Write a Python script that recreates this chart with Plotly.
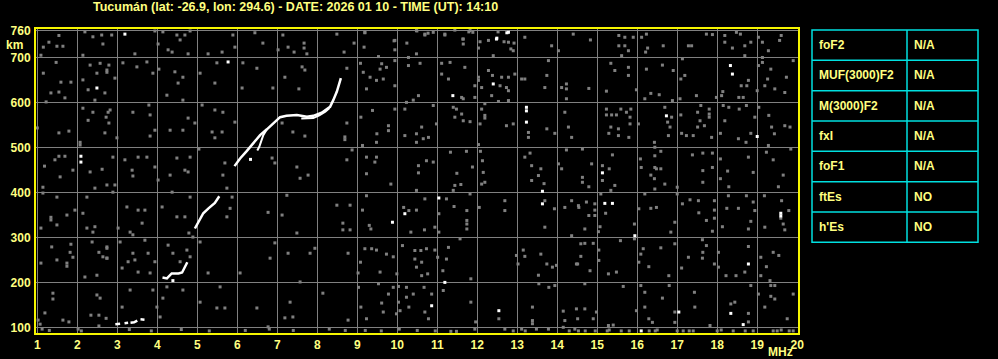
import plotly.graph_objects as go

# ---------------- data ----------------
title_text = "Tucumán (lat: -26.9, lon: 294.6) - DATE: 2026 01 10 - TIME (UT): 14:10"

x_ticks = list(range(1, 21))
y_ticks = [100, 200, 300, 400, 500, 600, 700, 760]

param_names = ["foF2", "MUF(3000)F2", "M(3000)F2", "fxI", "foF1", "ftEs", "h'Es"]
param_values = ["N/A", "N/A", "N/A", "N/A", "N/A", "NO", "NO"]

# main F-trace (None = gap in the echo trace)
trace_freq = [2.95, 3.07, None, 3.18, 3.27, None, 3.33, 3.42, 3.5, None, 3.58, 3.68, None,
              4.13, 4.24, 4.36, 4.53, 4.62, 4.69, 4.75, None,
              4.94, 5.03, 5.15, 5.28, 5.44, 5.55, None,
              5.93, 6.07, 6.24, 6.4, 6.57, 6.74, 6.9, 7.07, 7.23, 7.49, 7.74, 7.9, 8.11, 8.32, 8.4, 8.49, 8.59]
trace_height = [107, 108, None, 109, 110, None, 110, 111, 115, None, 118, 117, None,
                211, 209, 220, 220, 222, 235, 245, None,
                320, 335, 354, 365, 377, 392, None,
                459, 476, 493, 510, 528, 541, 554, 568, 571, 573, 569, 571, 578, 591, 606, 625, 655]

# secondary branch / thickened parts of the trace
branch_freq = [6.5, 6.55, 6.65, 6.74, None, 7.6, 7.7, 7.9, 8.05, 8.2, 8.3]
branch_height = [494, 502, 528, 541, None, 565, 565, 566, 572, 580, 588]

# isolated strong (white) echoes
white_points = [(2.09, 481), (2.09, 468), (2.49, 633), (3.19, 753), (5.77, 691), (12.48, 742),
                (12.78, 757), (12.49, 744), (12.74, 756), (12.4, 642), (11.39, 616), (13.23, 590),
                (13.23, 557), (9.88, 334), (10.19, 353), (11.04, 388), (13.63, 403), (13.63, 375),
                (10.86, 148), (11.19, 200), (12.54, 137), (15.13, 444), (15.19, 376), (15.38, 376),
                (15.94, 304), (16.73, 571), (18.33, 683), (18.38, 664), (19.0, 525), (19.59, 354),
                (19.59, 348), (18.78, 241), (17.04, 134), (18.34, 131), (18.65, 106), (16.1, 92),
                (6.33, 474), (4.39, 204), (13.23, 582)]

# weak (grey) scattered echoes / noise
noise_points = [
    (1.54, 750), (1.15, 724), (1.29, 735), (1.49, 726), (1.64, 726), (1.09, 706), (1.47, 690),
    (1.15, 666), (1.59, 646), (1.84, 646), (1.34, 622), (1.54, 624), (1.69, 611), (1.22, 602),
    (1.0, 544), (1.54, 533), (1.79, 537), (1.18, 459), (1.44, 473), (1.54, 481), (1.69, 481),
    (1.89, 450), (1.57, 435), (1.14, 412), (1.14, 399), (1.49, 390), (1.94, 361), (1.34, 339),
    (1.34, 345), (1.49, 328), (1.74, 350), (1.09, 321), (1.36, 279), (1.84, 285), (1.82, 267),
    (1.89, 256), (1.74, 243), (1.74, 236), (1.49, 250), (1.09, 243), (1.39, 176), (1.39, 163),
    (1.19, 132), (1.02, 116), (1.07, 107), (1.12, 96), (1.64, 116), (1.79, 112),
    (2.19, 758), (2.39, 747), (2.61, 751), (2.86, 751), (2.64, 731), (2.14, 706), (2.32, 684),
    (2.57, 688), (2.79, 684), (2.74, 668), (2.49, 666), (2.14, 651), (2.94, 655), (2.27, 629),
    (2.69, 622), (2.44, 606), (2.14, 588), (2.39, 579), (2.82, 584), (2.72, 568), (2.27, 561),
    (2.79, 555), (2.69, 533), (2.07, 506), (2.07, 512), (2.89, 479), (2.32, 446), (2.62, 452),
    (2.74, 417), (2.94, 417), (2.44, 410), (2.24, 390), (2.14, 354), (2.24, 321), (2.44, 324),
    (2.39, 312), (2.37, 290), (2.54, 267), (2.74, 276), (2.64, 257), (2.74, 254), (2.19, 212),
    (2.49, 216), (2.49, 172), (2.57, 165), (2.34, 127), (2.54, 127), (2.72, 120), (2.54, 103),
    (2.02, 96),
    (2.74, 673), (3.14, 689), (3.49, 680), (3.74, 691), (3.89, 666), (4.04, 675), (4.44, 669),
    (4.64, 657), (4.52, 644), (5.07, 666), (5.49, 689), (5.44, 644), (6.12, 633), (6.14, 689),
    (6.49, 677), (6.89, 633), (7.19, 657), (7.62, 680), (7.69, 673), (7.54, 631), (8.74, 677),
    (2.77, 579), (3.39, 579), (3.82, 573), (3.79, 595), (4.24, 617), (4.64, 606), (5.12, 595),
    (5.44, 584), (5.64, 579), (5.94, 557), (4.77, 566), (4.94, 555), (3.94, 539), (4.32, 539),
    (4.64, 539), (5.37, 535), (5.62, 535), (2.99, 522), (3.82, 526), (5.44, 522),
    (7.12, 555), (7.39, 535), (7.69, 526), (8.74, 555), (8.69, 524), (8.69, 518), (3.19, 473),
    (3.52, 479), (3.74, 479), (4.49, 477), (4.82, 479), (5.04, 497), (4.69, 450), (3.94, 457),
    (3.37, 450), (3.39, 437), (4.32, 439), (4.77, 446), (5.69, 466), (5.64, 439), (6.87, 477),
    (6.94, 466), (7.49, 457), (7.57, 432), (7.77, 439), (8.87, 495), (8.74, 473), (2.89, 401),
    (4.02, 428), (4.37, 401), (4.82, 390), (5.74, 410), (5.87, 390), (5.82, 365), (5.74, 346),
    (6.77, 356), (7.12, 350), (7.24, 394), (8.49, 372), (8.82, 372), (3.24, 368), (3.52, 361),
    (3.69, 361), (4.12, 368), (4.49, 346), (4.69, 346), (3.32, 312), (3.02, 321), (3.62, 332),
    (3.39, 306), (4.79, 310), (4.89, 301), (5.07, 290), (4.27, 283), (3.69, 294), (6.94, 288),
    (7.49, 310), (8.64, 332), (8.64, 317), (8.82, 317), (2.74, 279), (3.07, 290), (3.39, 265),
    (3.44, 250), (3.27, 246), (2.74, 254), (3.77, 265), (3.94, 246), (4.39, 265), (4.57, 246),
    (4.74, 272), (4.82, 257), (6.82, 254), (7.27, 265), (7.82, 265), (7.94, 276), (8.77, 265),
    (3.12, 232), (3.52, 223), (3.82, 221), (5.27, 221), (6.07, 221), (7.57, 201), (9.02, 221),
    (3.32, 183), (3.89, 183), (4.24, 190), (4.64, 183), (5.57, 190), (4.14, 165), (3.12, 145),
    (5.07, 156), (5.49, 143), (5.69, 143), (6.49, 143), (7.32, 156), (7.19, 121), (7.39, 123),
    (8.14, 176), (8.77, 116), (4.07, 123), (3.99, 145), (6.77, 101),
    (3.44, 709), (3.94, 760), (4.14, 758), (4.02, 731), (4.37, 713), (4.27, 718), (4.49, 751),
    (4.57, 740), (4.82, 760), (4.69, 751), (4.77, 709), (5.27, 709), (5.89, 751), (5.94, 724),
    (5.62, 713), (6.44, 756), (6.64, 733), (7.14, 751), (7.02, 718), (7.27, 724), (7.42, 713),
    (7.67, 733), (7.67, 722), (7.74, 709), (8.49, 753), (8.67, 713), (8.92, 733), (9.19, 756),
    (9.17, 724), (9.92, 738), (9.94, 718), (10.24, 733), (10.49, 760), (10.69, 751), (10.77, 755),
    (11.19, 751), (11.64, 742), (11.79, 758), (11.89, 757), (12.52, 758), (12.07, 736),
    (12.67, 736), (12.92, 733), (12.84, 720),
    (9.19, 757), (9.94, 739), (10.48, 761), (10.69, 753), (10.9, 757), (11.19, 753), (11.44, 762),
    (11.65, 742), (11.82, 761), (11.65, 731), (12.03, 722), (12.28, 739), (12.78, 735),
    (12.9, 716), (13.19, 746), (12.4, 705), (10.48, 709), (10.28, 701), (9.53, 703), (9.94, 694),
    (13.86, 727), (14.03, 716), (14.4, 753), (9.08, 688), (9.61, 687), (9.73, 679), (9.57, 675),
    (10.28, 683), (10.57, 688), (11.11, 688), (11.11, 664), (11.32, 690), (11.69, 679),
    (12.03, 657), (12.03, 650), (12.28, 672), (12.38, 661), (12.61, 657), (12.78, 657),
    (12.94, 664), (13.19, 653), (13.78, 694), (13.74, 661), (14.23, 642), (9.15, 668), (9.32, 657),
    (9.65, 653), (9.23, 631), (9.48, 650), (9.94, 638), (11.28, 653), (11.65, 609), (11.94, 638),
    (12.11, 634), (12.57, 638), (12.73, 634), (12.78, 627), (13.11, 653), (13.69, 634),
    (14.11, 634), (14.23, 631), (14.23, 609), (10.53, 616), (10.23, 601), (10.4, 606),
    (11.61, 612), (11.94, 612), (12.36, 616), (12.53, 603), (12.78, 605), (9.38, 583), (9.09, 568),
    (9.94, 586), (10.19, 586), (10.9, 594), (11.4, 590), (11.48, 586), (11.61, 575), (11.44, 568),
    (11.65, 560), (11.82, 558), (12.11, 586), (12.19, 572), (12.19, 566), (12.07, 553),
    (12.19, 598), (12.73, 549), (12.9, 553), (13.28, 534), (13.28, 523), (13.74, 542),
    (13.94, 532), (14.19, 579), (14.28, 546), (14.36, 523), (9.78, 549), (9.78, 538), (9.49, 531),
    (10.19, 527), (10.48, 531), (10.61, 546), (10.65, 520), (10.78, 523), (10.48, 512),
    (10.98, 553), (9.13, 505), (9.48, 512), (9.23, 479), (9.44, 468), (9.23, 442), (9.48, 479),
    (9.84, 419), (10.53, 460), (10.73, 471), (10.9, 468), (10.53, 444), (11.33, 490), (11.73, 492),
    (11.88, 457), (11.49, 443), (12.03, 507), (12.08, 492), (12.13, 471), (12.15, 445),
    (12.19, 423), (11.44, 416), (11.59, 418), (11.4, 405), (12.11, 419), (13.19, 479), (13.32, 488),
    (13.36, 460), (13.53, 438), (13.59, 453), (13.36, 427), (14.03, 464), (14.11, 453),
    (14.23, 495), (13.67, 420), (9.23, 393), (9.13, 361), (9.3, 327), (9.34, 319), (10.16, 367),
    (10.29, 360), (10.48, 405), (10.69, 386), (10.48, 361), (10.94, 323), (11.23, 386),
    (11.42, 369), (11.04, 353), (11.04, 312), (11.74, 360), (11.74, 338), (11.74, 330),
    (11.74, 319), (11.82, 397), (12.05, 367), (11.57, 297), (10.68, 317), (10.34, 312),
    (12.69, 382), (12.69, 360), (13.69, 382), (13.93, 364), (13.69, 323), (14.19, 367),
    (14.36, 382), (14.53, 371), (14.36, 304), (9.36, 275), (9.19, 275), (9.48, 272), (9.73, 263),
    (9.9, 257), (10.13, 282), (10.44, 271), (10.59, 271), (10.73, 275), (10.44, 252), (10.61, 245),
    (10.48, 234), (10.76, 219), (10.61, 215), (10.94, 272), (11.01, 256), (11.14, 226),
    (11.23, 252), (9.08, 245), (9.57, 223), (9.99, 219), (11.28, 278), (11.84, 208), (12.98, 260),
    (13.15, 272), (13.19, 258), (13.02, 241), (13.59, 263), (13.74, 241), (13.88, 234),
    (13.98, 238), (13.53, 216), (14.48, 241), (9.03, 189), (9.53, 197), (9.9, 189), (10.03, 191),
    (10.23, 189), (10.4, 174), (10.23, 167), (10.03, 156), (10.07, 137), (9.98, 130), (9.78, 174),
    (9.61, 154), (9.65, 134), (9.23, 119), (9.09, 145), (10.29, 145), (10.67, 189), (10.86, 174),
    (11.15, 182), (10.69, 134), (10.78, 119), (11.84, 156), (11.96, 112), (12.54, 119),
    (13.38, 145), (13.38, 115), (13.38, 108), (13.54, 197), (13.79, 189), (13.94, 193),
    (14.15, 136), (14.19, 115), (14.48, 141),
    (12.69, 96), (13.11, 96), (13.48, 96), (13.78, 96), (14.15, 100), (14.44, 96), (11.94, 96),
    (11.48, 91), (11.34, 91), (12.9, 92), (13.2, 92), (14.3, 92), (10.95, 92), (10.5, 93),
    (10.05, 96), (9.6, 92), (9.2, 93), (8.7, 93), (8.3, 96), (7.4, 93), (6.8, 96), (6.2, 93),
    (5.3, 92), (4.6, 95), (3.85, 92), (3.3, 95), (1.3, 93), (2.1, 92),
    (14.83, 740), (15.54, 750), (15.54, 727), (15.69, 746), (15.69, 727), (15.78, 716),
    (15.61, 705), (15.9, 746), (16.11, 746), (16.23, 753), (16.26, 722), (16.21, 713),
    (16.65, 727), (17.28, 727), (17.36, 727), (17.73, 753), (17.88, 752), (18.19, 750),
    (18.19, 735), (18.48, 757), (18.58, 753), (18.69, 727), (18.69, 705), (18.84, 735),
    (18.38, 722), (19.03, 746), (19.13, 735), (19.6, 750), (19.56, 739), (19.28, 716),
    (19.13, 701), (15.34, 688), (15.44, 672), (15.78, 679), (15.78, 661), (16.23, 675),
    (16.63, 684), (16.9, 672), (17.19, 661), (17.09, 653), (17.13, 698), (18.78, 650),
    (18.6, 638), (18.74, 638), (19.03, 683), (19.13, 690), (19.34, 675), (19.26, 653),
    (19.19, 638), (19.44, 631), (19.73, 657), (19.9, 694), (19.69, 623), (14.79, 632),
    (15.23, 626), (15.98, 629), (16.34, 621), (16.19, 609), (16.55, 618), (16.88, 605),
    (17.07, 609), (17.48, 616), (17.98, 612), (18.11, 616), (18.14, 625), (18.54, 612),
    (18.65, 612), (19.0, 627), (15.23, 586), (15.23, 573), (15.36, 573), (15.48, 573),
    (15.59, 586), (15.73, 579), (15.84, 586), (15.82, 568), (15.82, 553), (15.34, 546),
    (15.53, 542), (15.53, 527), (15.79, 523), (15.29, 532), (16.03, 553), (16.43, 512),
    (16.69, 590), (16.76, 557), (16.82, 546), (16.78, 527), (16.86, 568), (17.09, 573),
    (17.11, 532), (17.23, 527), (17.4, 527), (17.51, 579), (17.57, 560), (17.51, 546),
    (17.8, 586), (17.8, 568), (17.8, 575), (17.68, 549), (17.59, 594), (17.86, 523),
    (18.08, 532), (18.15, 594), (18.29, 590), (18.19, 560), (18.55, 586), (18.73, 594),
    (18.94, 568), (18.84, 532), (18.53, 520), (18.72, 512), (19.04, 590), (19.29, 572),
    (19.69, 549), (19.82, 546), (19.43, 531), (19.36, 546), (14.63, 497), (14.63, 434),
    (14.63, 423), (14.79, 413), (14.86, 464), (15.13, 460), (15.13, 427), (15.3, 453),
    (15.38, 484), (15.34, 405), (15.44, 416), (16.1, 456), (16.08, 475), (16.44, 501),
    (16.44, 482), (16.44, 456), (16.48, 453), (16.59, 453), (16.43, 431), (16.44, 408),
    (16.69, 419), (16.34, 439), (16.59, 492), (17.0, 412), (17.38, 484), (17.64, 488),
    (17.64, 449), (17.64, 423), (17.88, 488), (17.88, 456), (18.08, 475), (18.08, 431),
    (18.26, 448), (18.29, 413), (18.78, 479), (18.9, 445), (19.23, 490), (19.4, 473),
    (19.65, 439), (19.84, 497), (19.53, 413), (19.28, 505), (14.54, 367), (14.73, 379),
    (14.79, 349), (14.69, 319), (14.94, 375), (14.94, 361), (14.94, 349), (15.09, 397),
    (15.21, 354), (15.07, 324), (15.03, 313), (15.93, 330), (16.04, 364), (16.19, 397),
    (16.34, 365), (16.48, 367), (16.94, 334), (16.84, 312), (17.0, 397), (17.13, 375),
    (17.32, 384), (17.54, 355), (17.53, 382), (17.73, 338), (17.93, 382), (17.93, 361),
    (17.93, 343), (17.88, 314), (18.28, 393), (18.24, 365), (18.13, 324), (18.53, 365),
    (18.73, 393), (18.9, 379), (18.94, 360), (18.84, 336), (18.78, 319), (19.18, 393),
    (19.19, 323), (19.61, 382), (19.59, 343), (19.65, 330), (19.69, 317), (19.79, 360),
    (14.59, 286), (14.69, 287), (14.9, 287), (14.59, 258), (14.51, 241), (15.04, 272),
    (15.04, 249), (14.82, 226), (14.69, 197), (15.28, 219), (15.48, 223), (15.58, 293),
    (15.93, 297), (16.15, 275), (16.09, 263), (16.04, 245), (16.29, 235), (16.59, 277),
    (16.79, 215), (16.94, 286), (17.11, 232), (17.28, 256), (17.63, 295), (17.73, 282),
    (17.64, 267), (17.63, 254), (17.93, 241), (18.03, 267), (18.03, 234), (18.22, 215),
    (18.47, 215), (18.69, 223), (18.78, 280), (19.09, 256), (19.23, 235), (19.4, 267),
    (19.54, 260), (19.09, 215), (19.32, 204), (14.69, 141), (14.51, 119), (14.9, 119),
    (14.98, 134), (15.28, 104), (15.4, 105), (15.65, 191), (15.98, 137), (16.09, 193),
    (16.19, 178), (16.19, 145), (16.29, 119), (16.38, 111), (16.63, 165), (16.8, 193),
    (16.94, 134), (16.94, 111), (17.43, 178), (17.44, 145), (17.82, 104), (18.34, 152),
    (18.44, 156), (18.78, 131), (18.78, 112), (18.84, 193), (19.03, 174), (19.34, 193),
    (19.44, 193), (19.34, 169), (19.44, 163), (19.19, 145), (19.75, 119), (19.9, 174),
    (14.53, 92), (14.7, 92), (14.95, 92), (15.25, 92), (15.3, 94), (15.6, 92), (15.8, 92),
    (16.3, 92), (16.45, 92), (16.5, 94), (17.0, 92), (17.15, 92), (17.3, 92), (17.4, 92),
    (18.0, 92), (18.1, 94), (18.4, 92), (18.7, 92), (18.9, 92), (19.4, 92), (19.5, 92),
    (19.6, 94), (19.8, 92), (19.9, 92),
]

# ---------------- layout helpers (pixel geometry of the page) ----------------
W, H = 998, 359
PL, PR, PT, PB = 36, 798, 29, 333     # plot area in pixels


def px_x(X):
    return (X - PL) / (PR - PL)


def px_y(Y):
    return (PB - Y) / (PB - PT)


TXT = "#ffff80"
YEL = "#f5f500"
CYAN = "#00e0e0"
GREY = "#808080"
FONT = "Liberation Sans"

fig = go.Figure()

fig.add_trace(go.Scatter(
    x=[p[0] for p in noise_points], y=[p[1] for p in noise_points],
    mode="markers", marker=dict(symbol="square", size=3, color=GREY, line=dict(width=0)),
    hoverinfo="skip", showlegend=False))

fig.add_trace(go.Scatter(
    x=[p[0] for p in white_points], y=[p[1] for p in white_points],
    mode="markers", marker=dict(symbol="square", size=3, color="white", line=dict(width=0)),
    hoverinfo="skip", showlegend=False))

fig.add_trace(go.Scatter(
    x=branch_freq, y=branch_height, mode="lines", connectgaps=False,
    line=dict(color="white", width=2), hoverinfo="skip", showlegend=False))

fig.add_trace(go.Scatter(
    x=trace_freq, y=trace_height, mode="lines", connectgaps=False,
    line=dict(color="white", width=2.5), hoverinfo="skip", showlegend=False))

axis_font = dict(family=FONT, size=12, color=TXT, weight="bold")

fig.update_xaxes(
    range=[0.967, 20.02], tickvals=x_ticks, ticktext=[str(v) for v in x_ticks],
    showgrid=True, gridcolor=GREY, gridwidth=1, zeroline=False,
    showline=True, linecolor=YEL, linewidth=2, mirror=True, automargin=False,
    ticks="", tickfont=axis_font, ticklabelstandoff=0, fixedrange=True)
fig.update_yaxes(
    range=[87.3, 764.4], tickvals=y_ticks, ticktext=[str(v) for v in y_ticks],
    showgrid=True, gridcolor=GREY, gridwidth=1, zeroline=False,
    showline=True, linecolor=YEL, linewidth=2, mirror=True, automargin=False,
    ticks="", tickfont=axis_font, ticklabelstandoff=1, fixedrange=True)

annotations = [
    dict(text=title_text, x=px_x(295), y=px_y(7), xref="paper", yref="paper",
         showarrow=False, xanchor="center", yanchor="middle",
         font=dict(family=FONT, size=12.5, color=TXT, weight="bold")),
    dict(text="km", x=px_x(14), y=px_y(45), xref="paper", yref="paper",
         showarrow=False, xanchor="center", yanchor="middle",
         font=dict(family=FONT, size=12, color=TXT, weight="bold")),
    dict(text="MHz", x=px_x(780), y=px_y(352), xref="paper", yref="paper",
         showarrow=False, xanchor="center", yanchor="middle",
         font=dict(family=FONT, size=12, color=TXT, weight="bold")),
]

# parameter table on the right
TL, TR, TDIV, TT = 812, 978, 907, 30
ROW_H = 30.33
n_rows = len(param_names)
shapes = [dict(type="rect", xref="paper", yref="paper",
               x0=px_x(TL), x1=px_x(TR), y0=px_y(TT), y1=px_y(TT + ROW_H * n_rows),
               line=dict(color=CYAN, width=1.5))]
shapes.append(dict(type="line", xref="paper", yref="paper",
                   x0=px_x(TDIV), x1=px_x(TDIV), y0=px_y(TT), y1=px_y(TT + ROW_H * n_rows),
                   line=dict(color=CYAN, width=1.5)))
for i in range(1, n_rows):
    yy = px_y(TT + ROW_H * i)
    shapes.append(dict(type="line", xref="paper", yref="paper",
                       x0=px_x(TL), x1=px_x(TR), y0=yy, y1=yy,
                       line=dict(color=CYAN, width=1.5)))
for i, (name, val) in enumerate(zip(param_names, param_values)):
    yc = px_y(TT + ROW_H * (i + 0.5))
    annotations.append(dict(text=name, x=px_x(817), y=yc, xref="paper", yref="paper",
                            showarrow=False, xanchor="left", yanchor="middle",
                            font=dict(family=FONT, size=12, color=TXT, weight="bold")))
    annotations.append(dict(text=val, x=px_x(912), y=yc, xref="paper", yref="paper",
                            showarrow=False, xanchor="left", yanchor="middle",
                            font=dict(family=FONT, size=12, color=TXT, weight="bold")))

fig.update_layout(
    width=W, height=H, autosize=False,
    margin=dict(l=PL, r=W - PR, t=PT, b=H - PB, pad=0),
    paper_bgcolor="black", plot_bgcolor="black",
    annotations=annotations, shapes=shapes, showlegend=False)

fig.write_html("out.html", config={"displayModeBar": False})
